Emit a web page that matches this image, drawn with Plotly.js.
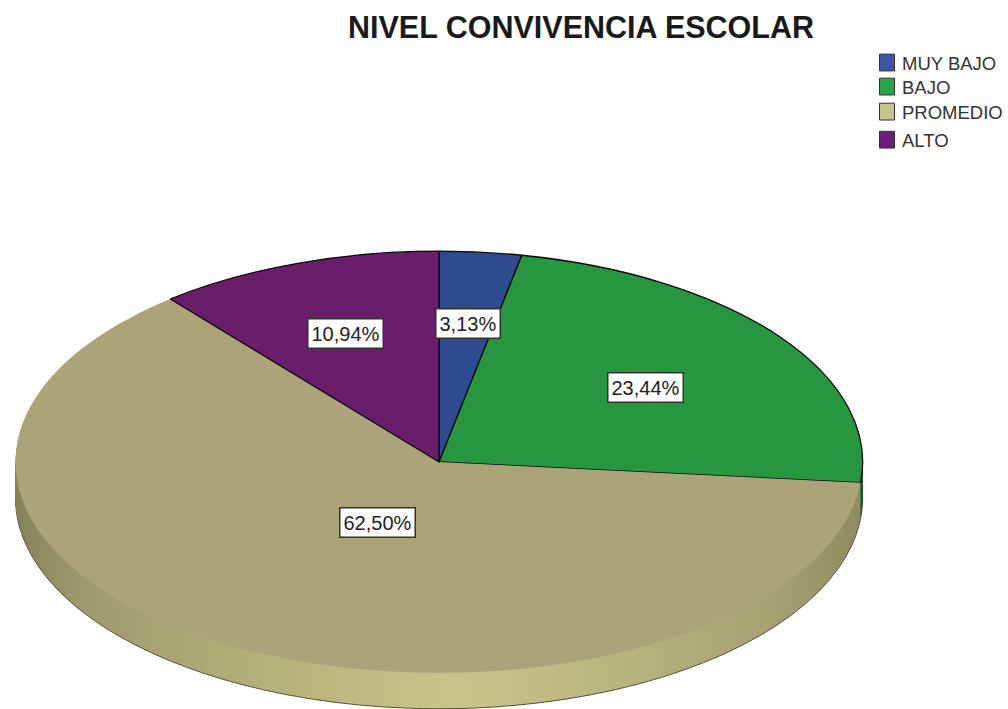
<!DOCTYPE html>
<html>
<head>
<meta charset="utf-8">
<script src="https://cdn.plot.ly/plotly-3.0.1.min.js"></script>
<style>html,body{margin:0;padding:0;background:#fff;overflow:hidden}#chart{width:1008px;height:709px}</style>
</head>
<body>
<div id="chart"></div>
<script>
const categories = ["MUY BAJO", "BAJO", "PROMEDIO", "ALTO"];
const percentages = [3.13, 23.44, 62.50, 10.94];
const topColors = ["#2F4B8F", "#27973F", "#AAA478", "#6A1D6B"];
const sideColors = ["#1E3160", "#17602A", "#B5B17C", "#45124A"];
const legendColors = ["#3C55A5", "#27A548", "#C8C490", "#6A1D80"];
const chartTitle = "NIVEL CONVIVENCIA ESCOLAR";

const W = 1008, H = 709;
const cx = 440, cy = 462, rx = 424, ry = 211, depth = 36, baseR = 200, layers = 18;
const labelPos = [[468, 324], [646, 387], [378, 522], [346, 334]];
const legendRowShift = [2, 5, 7, 6];

const domain = {
  x: [(cx - baseR) / W, (cx + baseR) / W],
  y: [1 - (cy + baseR) / H, 1 - (cy - baseR) / H]
};
const pieBase = {
  type: "pie", labels: categories, values: percentages, sort: false,
  direction: "clockwise", rotation: 0, textinfo: "none", hoverinfo: "label+percent", domain: domain
};
const traces = [];
for (let i = layers; i >= 1; i--) {
  traces.push(Object.assign({}, pieBase, {
    showlegend: false,
    marker: { colors: sideColors, line: { width: i === layers ? 1 : 0, color: "#55543c" } }
  }));
}
traces.push(Object.assign({}, pieBase, {
  showlegend: true,
  marker: { colors: topColors, line: { width: [1.3, 1.3, 0, 1.3], color: "#0a0a0a" } }
}));

const layout = {
  width: W, height: H,
  margin: { l: 0, r: 0, t: 0, b: 0 },
  paper_bgcolor: "#ffffff",
  font: { family: "Liberation Sans, Arial, sans-serif", color: "#111" },
  title: {
    text: chartTitle,
    font: { size: 30.5, weight: 700, family: "Liberation Sans, Arial, sans-serif", color: "#1a1a1a" },
    x: 581 / W, xanchor: "center", y: 1 - 27 / H, yanchor: "middle"
  },
  legend: {
    x: 863 / W, xanchor: "left", y: 1 - 46 / H, yanchor: "top",
    font: { size: 18.5, color: "#333" }, bgcolor: "rgba(0,0,0,0)",
    itemwidth: 30, traceorder: "normal"
  },
  annotations: percentages.map((v, i) => ({
    text: v.toFixed(2).replace(".", ",") + "%",
    xref: "paper", yref: "paper", showarrow: false,
    x: labelPos[i][0] / W, y: 1 - labelPos[i][1] / H, xanchor: "center", yanchor: "middle",
    font: { size: 20, color: "#222", family: "Liberation Sans, Arial, sans-serif" },
    bgcolor: "#ffffff", bordercolor: "#333", borderwidth: 1.5, borderpad: 3
  }))
};

Plotly.newPlot("chart", traces, layout, { displayModeBar: false, staticPlot: true }).then(function () {
  const svg = document.querySelector("#chart .main-svg");
  const NS = "http://www.w3.org/2000/svg";
  const defs = svg.querySelector("defs") || svg.insertBefore(document.createElementNS(NS, "defs"), svg.firstChild);
  const grad = document.createElementNS(NS, "linearGradient");
  grad.setAttribute("id", "sideShade");
  [[0, "#85825A"], [0.08, "#9E9A6E"], [0.28, "#B3AF78"], [0.52, "#C9C58A"], [0.72, "#B8B47E"], [0.9, "#A5A172"], [1, "#8E8B60"]]
    .forEach(function (s) {
      const stop = document.createElementNS(NS, "stop");
      stop.setAttribute("offset", s[0]);
      stop.setAttribute("stop-color", s[1]);
      grad.appendChild(stop);
    });
  defs.appendChild(grad);

  const groups = document.querySelectorAll("#chart .pielayer .trace");
  const sx = rx / baseR, sy = ry / baseR;
  groups.forEach(function (g, idx) {
    const dy = idx < layers ? (layers - idx) * depth / layers : 0;
    g.setAttribute("transform", "translate(" + cx + "," + (cy + dy) + ") scale(" + sx + "," + sy + ") translate(" + (-cx) + "," + (-cy) + ")");
    g.querySelectorAll("path").forEach(function (p) { p.setAttribute("vector-effect", "non-scaling-stroke"); });
    if (idx < layers) {
      const slices = g.querySelectorAll(".slice path.surface");
      if (slices[2]) slices[2].style.fill = "url(#sideShade)";
    }
  });
  document.querySelectorAll("#chart .legendpie").forEach(function (p, i) {
    p.setAttribute("transform", (p.getAttribute("transform") || "") + " translate(5,0) scale(1.25,1.4)");
    p.setAttribute("vector-effect", "non-scaling-stroke");
    p.style.fill = legendColors[i];
    p.style.stroke = "#333";
    p.style.strokeWidth = "1px";
  });
  document.querySelectorAll("#chart .legend .traces").forEach(function (t, i) {
    const m = /translate\(\s*([-\d.]+)[ ,]+([-\d.]+)\s*\)/.exec(t.getAttribute("transform") || "");
    if (m) t.setAttribute("transform", "translate(" + m[1] + "," + (parseFloat(m[2]) - legendRowShift[i]) + ")");
  });
});
</script>
</body>
</html>
